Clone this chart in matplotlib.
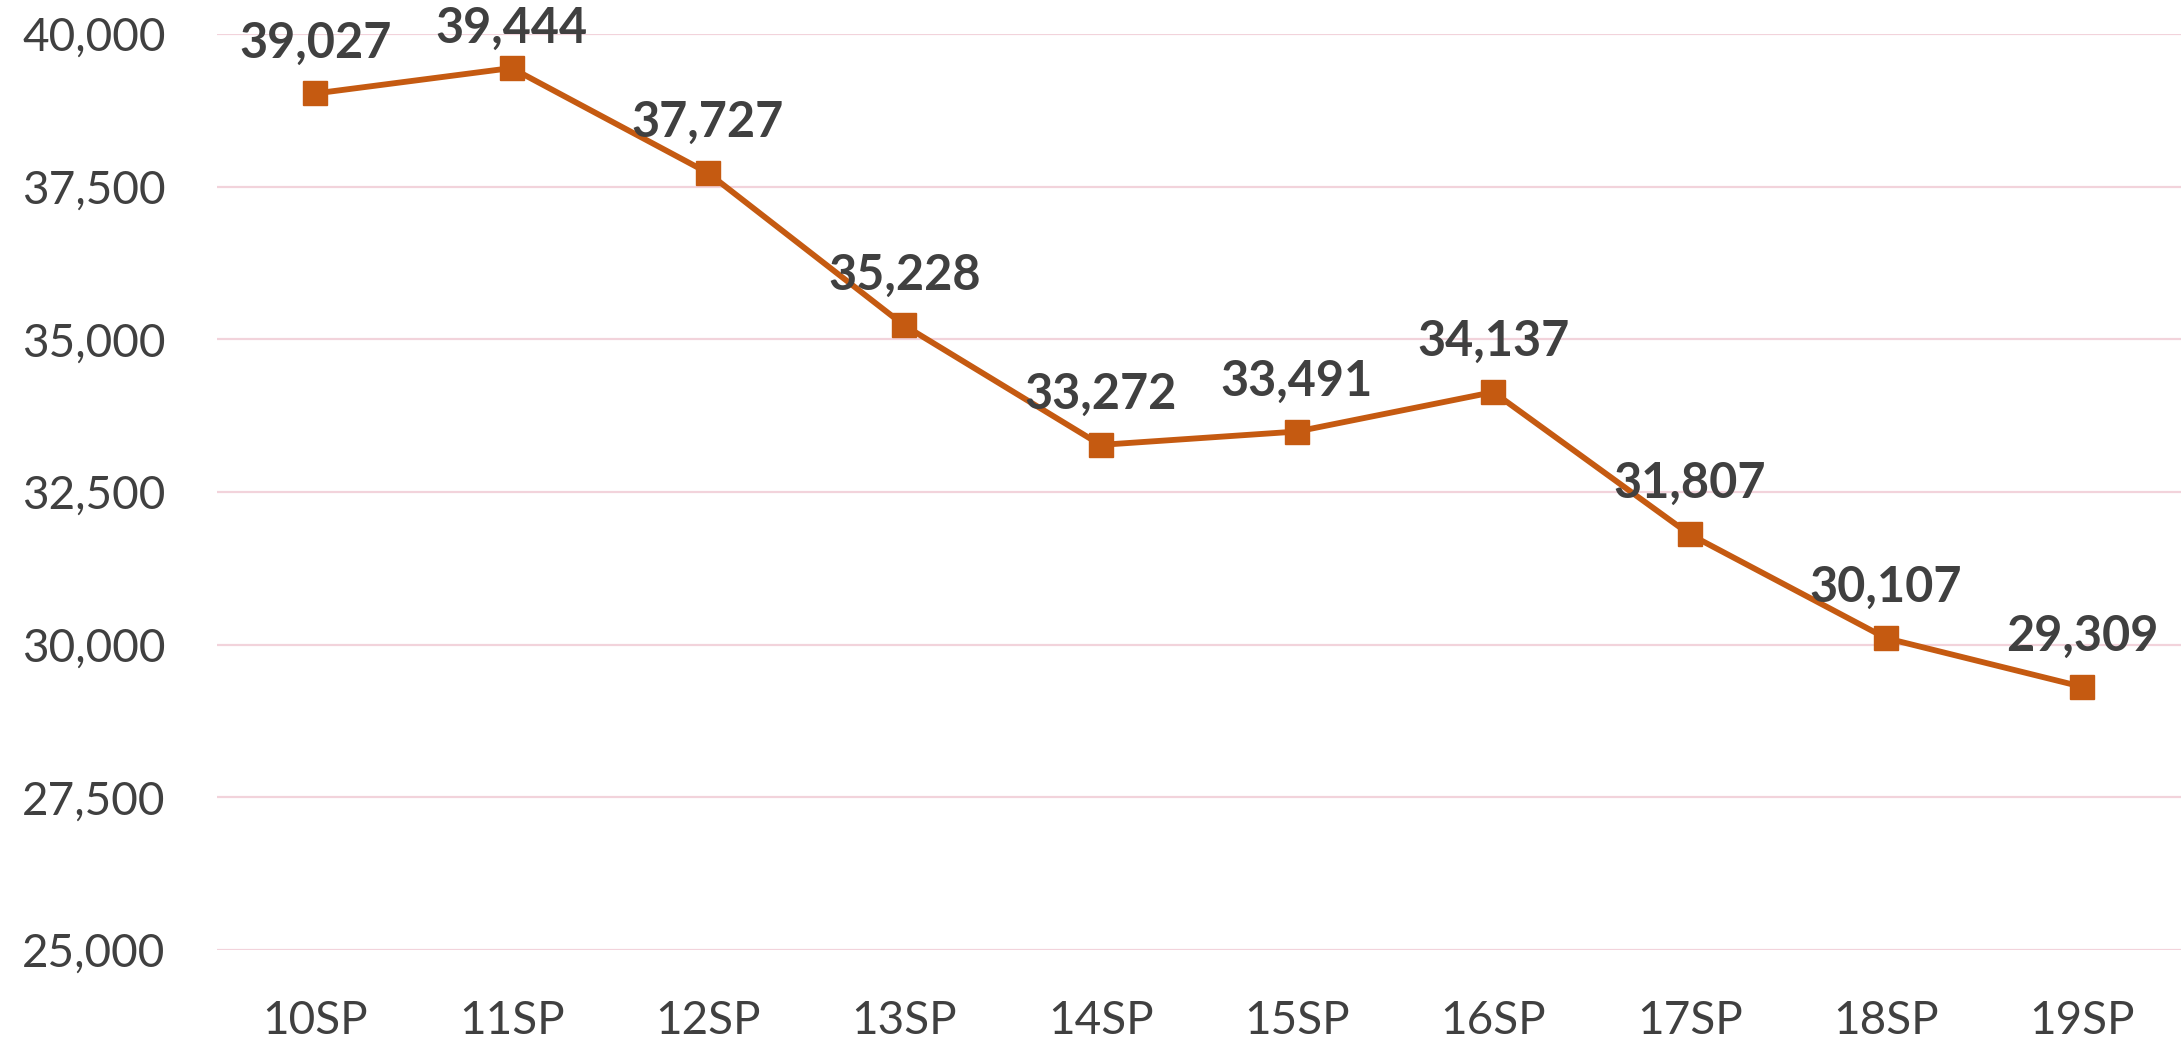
import matplotlib
matplotlib.use('Agg')
import matplotlib.pyplot as plt
from matplotlib.ticker import FuncFormatter, MultipleLocator

plt.rcParams['font.family'] = ['Lato', 'DejaVu Sans']

seasons = ['10SP', '11SP', '12SP', '13SP', '14SP', '15SP', '16SP', '17SP', '18SP', '19SP']
values = [39027, 39444, 37727, 35228, 33272, 33491, 34137, 31807, 30107, 29309]

line_color = '#C55A11'
text_color = '#404040'
grid_color = '#F2D3DB'

fig = plt.figure(figsize=(21.81, 10.42), dpi=100)
ax = fig.add_axes([0.0995, 0.0883, 0.9003, 0.879])

x = list(range(len(seasons)))
ax.plot(x, values, color=line_color, lw=4.2, marker='s', ms=17,
        markerfacecolor=line_color, markeredgecolor=line_color, zorder=3)

labels = []
for xi, v in zip(x, values):
    t = ax.annotate('{:,}'.format(v), (xi, v), xytext=(0, 26), textcoords='offset points',
                    ha='center', va='baseline', fontsize=35, fontweight='bold',
                    color=text_color, zorder=4, annotation_clip=False)
    labels.append(t)

ax.set_xlim(-0.5, len(seasons) - 0.5)
ax.set_ylim(25000, 40000)
ax.yaxis.set_major_locator(MultipleLocator(2500))
ax.yaxis.set_major_formatter(FuncFormatter(lambda v, p: '{:,.0f}'.format(v)))
ax.set_xticks(x)
ax.set_xticklabels(seasons)

ax.grid(axis='y', color=grid_color, lw=1.6, zorder=0)
ax.set_axisbelow(True)
for s in ax.spines.values():
    s.set_visible(False)
ax.tick_params(axis='both', length=0, labelsize=33, colors=text_color)
ax.tick_params(axis='y', pad=37)
ax.tick_params(axis='x', pad=36)

# keep labels inside the chart area, like the spreadsheet does
fig.canvas.draw()
renderer = fig.canvas.get_renderer()
fig_h = fig.bbox.height
for t in labels:
    bb = t.get_window_extent(renderer)
    over = bb.y1 - (fig_h - 6)
    if over > 0:
        dx, dy = t.xyann
        t.xyann = (dx, dy - over * 72.0 / fig.dpi)

fig.savefig('out.png', dpi=100, facecolor='white')
